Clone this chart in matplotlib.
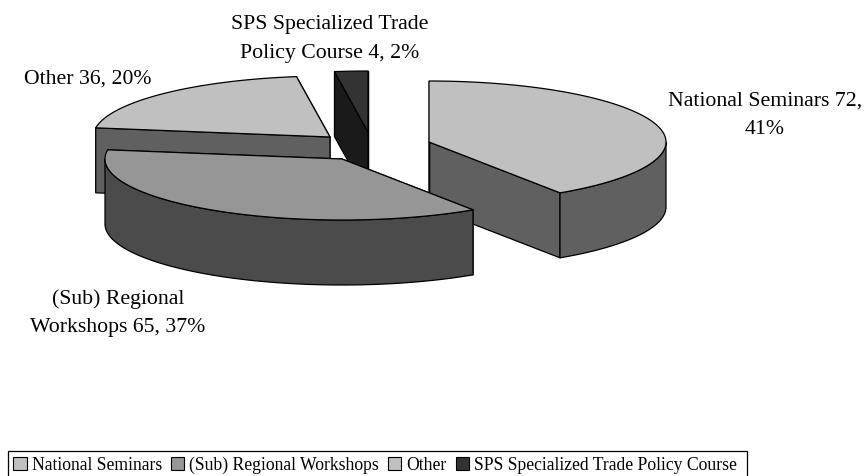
import numpy as np
import matplotlib
matplotlib.use('Agg')
import matplotlib.pyplot as plt
from matplotlib.patches import Polygon, Patch, Rectangle

categories = ['National Seminars', '(Sub) Regional Workshops', 'Other', 'SPS Specialized Trade Policy Course']
values = [72, 65, 36, 4]
percents = [41, 37, 20, 2]
labels = ['National Seminars 72,\n41%', '(Sub) Regional\nWorkshops 65, 37%',
          'Other 36, 20%', 'SPS Specialized Trade\nPolicy Course 4, 2%']

top_colors = ['#c0c0c0', '#969696', '#c0c0c0', '#333333']
side_colors = ['#606060', '#4b4b4b', '#606060', '#1a1a1a']
# exploded slice centres, in pixels of the figure
centers = [(429, 142), (342, 159), (330, 137), (368, 132)]
label_pos = [(765, 115.5), (118, 313.5), (88, 79), (330, 39)]
draw_order = [3, 2, 0, 1]

RX, RY, DEPTH = 237, 61, 65

plt.rcParams['font.family'] = ['Liberation Serif', 'DejaVu Serif']
fig = plt.figure(figsize=(8.65, 4.76), dpi=100)
ax = fig.add_axes([0, 0, 1, 1])
ax.set_xlim(0, 865)
ax.set_ylim(476, 0)
ax.axis('off')


def rim(cx, cy, a0, a1):
    # angles clockwise from 12 o'clock, degrees
    t = np.radians(np.linspace(a0, a1, max(int(a1 - a0) * 2, 2)))
    return np.column_stack([cx + RX * np.sin(t), cy - RY * np.cos(t)])


def add(pts, color, z):
    ax.add_patch(Polygon(pts, closed=True, facecolor=color, edgecolor='black',
                         linewidth=0.9, joinstyle='round', zorder=z))


edges = np.concatenate([[0], np.cumsum(values)]) / sum(values) * 360
down = np.array([0, DEPTH])

for z, i in enumerate(draw_order):
    cx, cy = centers[i]
    a0, a1 = edges[i], edges[i + 1]
    c = np.array([cx, cy])
    z0 = z * 10
    # cut walls, end one first so the start one stays in front
    for k, a in enumerate((a1, a0)):
        p = rim(cx, cy, a, a + 0.01)[0]
        add([c, p, p + down, c + down], side_colors[i], z0 + k)
    # curved outer wall, only the front half can be seen
    f0, f1 = max(a0, 90), min(a1, 270)
    if f1 > f0:
        arc = rim(cx, cy, f0, f1)
        add(np.vstack([arc, arc[::-1] + down]), side_colors[i], z0 + 2)
    add(np.vstack([[c], rim(cx, cy, a0, a1)]), top_colors[i], z0 + 3)

for lab, (x, y) in zip(labels, label_pos):
    ax.text(x, y, lab, ha='center', va='center', fontsize=15.7, linespacing=1.65,
            color='black', zorder=100)

# legend box runs off the bottom of the picture
ax.add_patch(Rectangle((8, 451), 739, 40, facecolor='white', edgecolor='black',
                       linewidth=0.9, zorder=90))
handles = [Patch(facecolor=c, edgecolor='black', linewidth=0.8) for c in top_colors]
leg = ax.legend(handles, categories, ncol=4, loc='lower left',
                bbox_to_anchor=(8 / 865, -3 / 476), borderaxespad=0, fontsize=12.7,
                frameon=False, handlelength=0.75, handleheight=0.75, handletextpad=0.3,
                columnspacing=0.5, borderpad=0.3)
leg.set_zorder(100)

fig.savefig('out.png', dpi=100)
